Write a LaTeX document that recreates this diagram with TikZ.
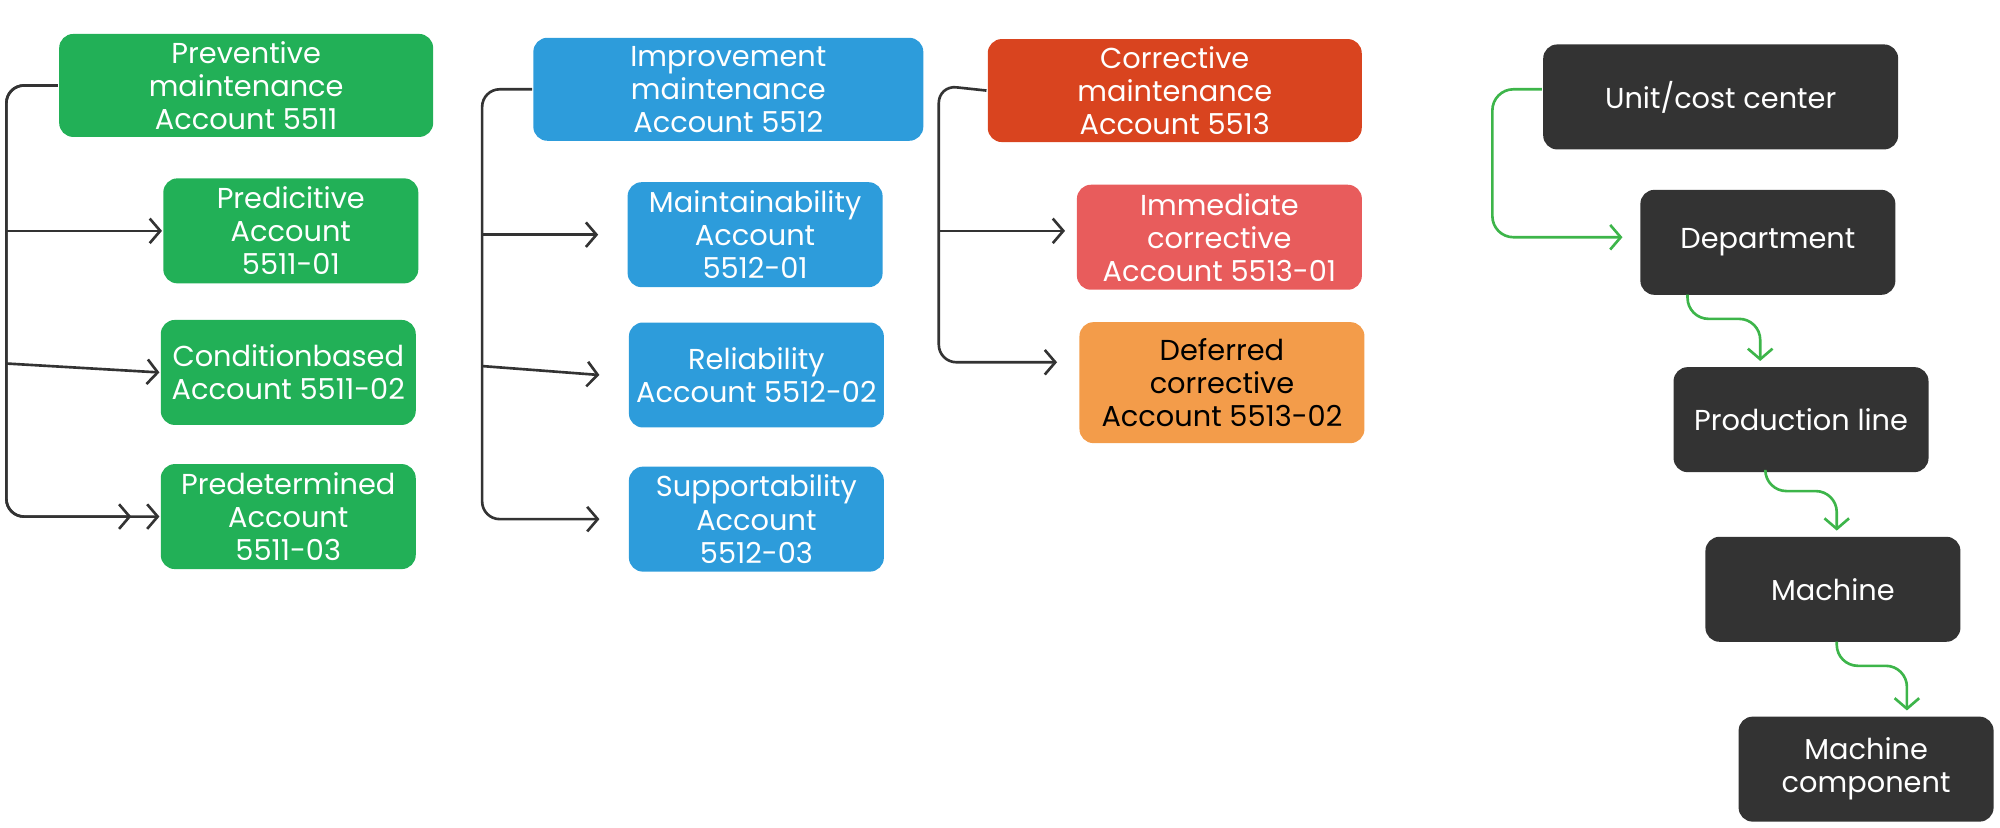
\documentclass[tikz,border=0pt]{standalone}
\usepackage{fontspec}
\setmainfont{Poppins}
\usetikzlibrary{arrows.meta}
\definecolor{prevgreen}{HTML}{22B057}
\definecolor{impblue}{HTML}{2D9CDB}
\definecolor{corred}{HTML}{D9441F}
\definecolor{immred}{HTML}{E85C5C}
\definecolor{deforange}{HTML}{F39C4A}
\definecolor{darkbox}{HTML}{333333}
\definecolor{flowgreen}{HTML}{3DB54A}
\tikzset{every picture/.style={line width=0.75pt}}
\tikzset{
  box/.style={rounded corners=4pt, text=white, align=center, inner sep=0pt,
    font=\fontsize{8.2pt}{9.4pt}\selectfont},
  bigbox/.style={box, minimum width=3.74cm, minimum height=1.03cm},
  subbox/.style={box, minimum width=2.55cm, minimum height=1.05cm},
  bracket/.style={draw=black!80, rounded corners=5pt},
  barb/.style={-{Straight Barb[length=3pt,width=7pt]}},
  flow/.style={draw=flowgreen, rounded corners=6pt, -{Straight Barb[length=3pt,width=7pt]}},
}
\begin{document}
\begin{tikzpicture}[x=0.012755cm, y=-0.012755cm]
		\useasboundingbox (0,0) rectangle (1568,649);

		% preventive
		\node[bigbox, fill=prevgreen] (prev) at (193,67) {Preventive\\maintenance\\Account 5511};
		\node[subbox, fill=prevgreen] (pred) at (228,181) {Predicitive\\Account\\5511-01};
		\node[subbox, fill=prevgreen] (cond) at (226,292) {Conditionbased\\Account 5511-02};
		\node[subbox, fill=prevgreen] (pdet) at (226,405) {Predetermined\\Account\\5511-03};
		\draw[bracket] (prev.west) -- (5,67) -- (5,405) -- (pdet.west) [barb];
		\draw[barb, black!80] (5,181) -- (pred.west);
		\draw[barb, black!80] (5,285) -- (cond.west);
		\draw[bracket, barb] (prev.west) -- (5,67) -- (5,405) -- ([xshift=-8pt]pdet.west);

		% improvement
		\node[bigbox, fill=impblue, minimum width=3.9cm] (impr) at (571,70) {Improvement\\maintenance\\Account 5512};
		\node[subbox, fill=impblue] (mant) at (592,184) {Maintainability\\Account\\5512-01};
		\node[subbox, fill=impblue] (reli) at (593,294) {Reliability\\Account 5512-02};
		\node[subbox, fill=impblue] (supp) at (593,407) {Supportability\\Account\\5512-03};
		\draw[bracket, barb] (impr.west) -- (378,70) -- (378,407) -- ([xshift=-8pt]supp.west);
		\draw[barb, black!80] (378,184) -- ([xshift=-8pt]mant.west);
		\draw[barb, black!80] (378,287) -- ([xshift=-8pt]reli.west);

		% corrective
		\node[bigbox, fill=corred] (corr) at (921,71) {Corrective\\maintenance\\Account 5513};
		\node[subbox, fill=immred, minimum width=2.85cm] (imm) at (956,186) {Immediate\\corrective\\Account 5513-01};
		\node[subbox, fill=deforange, text=black, minimum width=2.85cm, minimum height=1.21cm] (defr) at (958,300) {Deferred\\corrective\\Account 5513-02};
		\draw[bracket, barb] (corr.west) -- (736,67) -- (736,284) -- ([xshift=-6pt]defr.west |- 0,284);
		\draw[barb, black!80] (736,181) -- ([xshift=-3pt]imm.west |- 0,181);

		% hierarchy
		\node[box, fill=darkbox, minimum width=3.55cm, minimum height=1.05cm] (unit) at (1349,76) {Unit/cost center};
		\node[box, fill=darkbox, minimum width=2.55cm, minimum height=1.05cm] (dept) at (1386,190) {Department};
		\node[box, fill=darkbox, minimum width=2.55cm, minimum height=1.05cm] (line) at (1412,329) {Production line};
		\node[box, fill=darkbox, minimum width=2.55cm, minimum height=1.05cm] (mach) at (1437,462) {Machine};
		\node[box, fill=darkbox, minimum width=2.55cm, minimum height=1.05cm] (comp) at (1463,603) {Machine\\component};
		\draw[flow] (unit.west |- 0,70) -- (1170,70) -- (1170,186) -- (1272,186);
		\draw[flow] (1323,231) -- (1323,250) -- (1380,250) -- (1380,283);
		\draw[flow] (1384,370) -- (1384,385) -- (1440,385) -- (1440,416);
		\draw[flow] (1440,503) -- (1440,522) -- (1495,522) -- (1495,557);
	\end{tikzpicture}
\end{document}
